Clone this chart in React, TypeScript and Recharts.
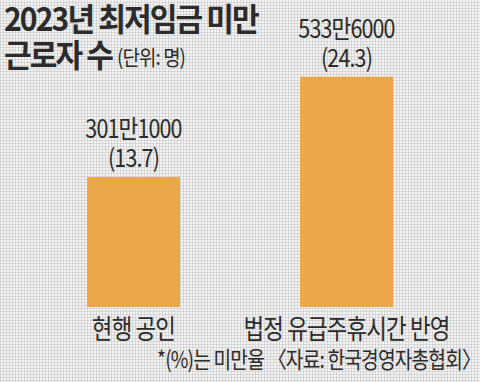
import React from "react";
import { Bar, BarChart, LabelList, XAxis, YAxis } from "recharts";

const categories = ["현행 공인", "법정 유급주휴시간 반영"];
const workers = [301.1, 533.6]; // 만 명
const valueLabels = ["301만1000", "533만6000"];
const rateLabels = ["(13.7)", "(24.3)"];

const data = categories.map((name, i) => ({
  name,
  workers: workers[i],
  label: valueLabels[i],
  rate: rateLabels[i],
}));

const BAR = "#eba84b";
const INK = "#2b2b2b";
const FONT = "'Noto Sans CJK KR', 'Noto Sans', sans-serif";

// condensed text, like the newspaper face
function Narrow({
  x,
  y,
  size,
  sx,
  anchor = "middle",
  weight = 400,
  spacing = -1,
  children,
}: {
  x: number;
  y: number;
  size: number;
  sx: number;
  anchor?: "start" | "middle" | "end";
  weight?: number;
  spacing?: number;
  children: React.ReactNode;
}) {
  return (
    <text
      transform={`translate(${x},${y}) scale(${sx},1)`}
      textAnchor={anchor}
      fontFamily={FONT}
      fontSize={size}
      fontWeight={weight}
      fill={INK}
      letterSpacing={spacing}
    >
      {children}
    </text>
  );
}

function ValueLabel(props: any) {
  const { x, y, width, index } = props;
  const cx = x + width / 2;
  return (
    <g>
      <Narrow x={cx} y={y - 39} size={25} sx={0.86}>{valueLabels[index]}</Narrow>
      <Narrow x={cx} y={y - 10} size={25} sx={0.86}>{rateLabels[index]}</Narrow>
    </g>
  );
}

function CategoryTick(props: any) {
  const { x, y, payload } = props;
  return (
    <Narrow x={x} y={y + 24} size={27} sx={0.83}>
      {payload.value}
    </Narrow>
  );
}

export default function App() {
  return (
    <div
      style={{
        position: "fixed",
        left: 0,
        top: 0,
        width: 480,
        height: 382,
        backgroundColor: "#f4f4f4",
        backgroundImage:
          "linear-gradient(90deg, rgba(195,195,195,0.55) 1px, transparent 1px), linear-gradient(0deg, rgba(195,195,195,0.55) 1px, transparent 1px)",
        backgroundSize: "3px 3px",
        overflow: "hidden",
      }}
    >
      <BarChart
        width={480}
        height={382}
        data={data}
        margin={{ top: 5, right: 27, left: 27, bottom: 45 }}
        barSize={93}
        style={{ position: "absolute", left: 0, top: 0 }}
      >
        <XAxis dataKey="name" axisLine={false} tickLine={false} tick={<CategoryTick />} interval={0} height={30} />
        <YAxis hide domain={[0, 700]} />
        <Bar dataKey="workers" fill={BAR} isAnimationActive={false}>
          <LabelList dataKey="label" content={<ValueLabel />} />
        </Bar>
      </BarChart>
      <svg width={480} height={382} style={{ position: "absolute", left: 0, top: 0, pointerEvents: "none" }}>
        <Narrow x={4} y={31} size={32} sx={0.94} anchor="start" weight={700} spacing={-2}>
          2023년 최저임금 미만
        </Narrow>
        <Narrow x={4} y={67} size={32} sx={0.94} anchor="start" weight={700} spacing={-2}>
          근로자 수
        </Narrow>
        <Narrow x={117} y={65} size={21} sx={0.9} anchor="start">
          (단위: 명)
        </Narrow>
        <Narrow x={157} y={368} size={23} sx={0.835} anchor="start">
          *(%)는 미만율 〈자료: 한국경영자총협회〉
        </Narrow>
      </svg>
    </div>
  );
}
